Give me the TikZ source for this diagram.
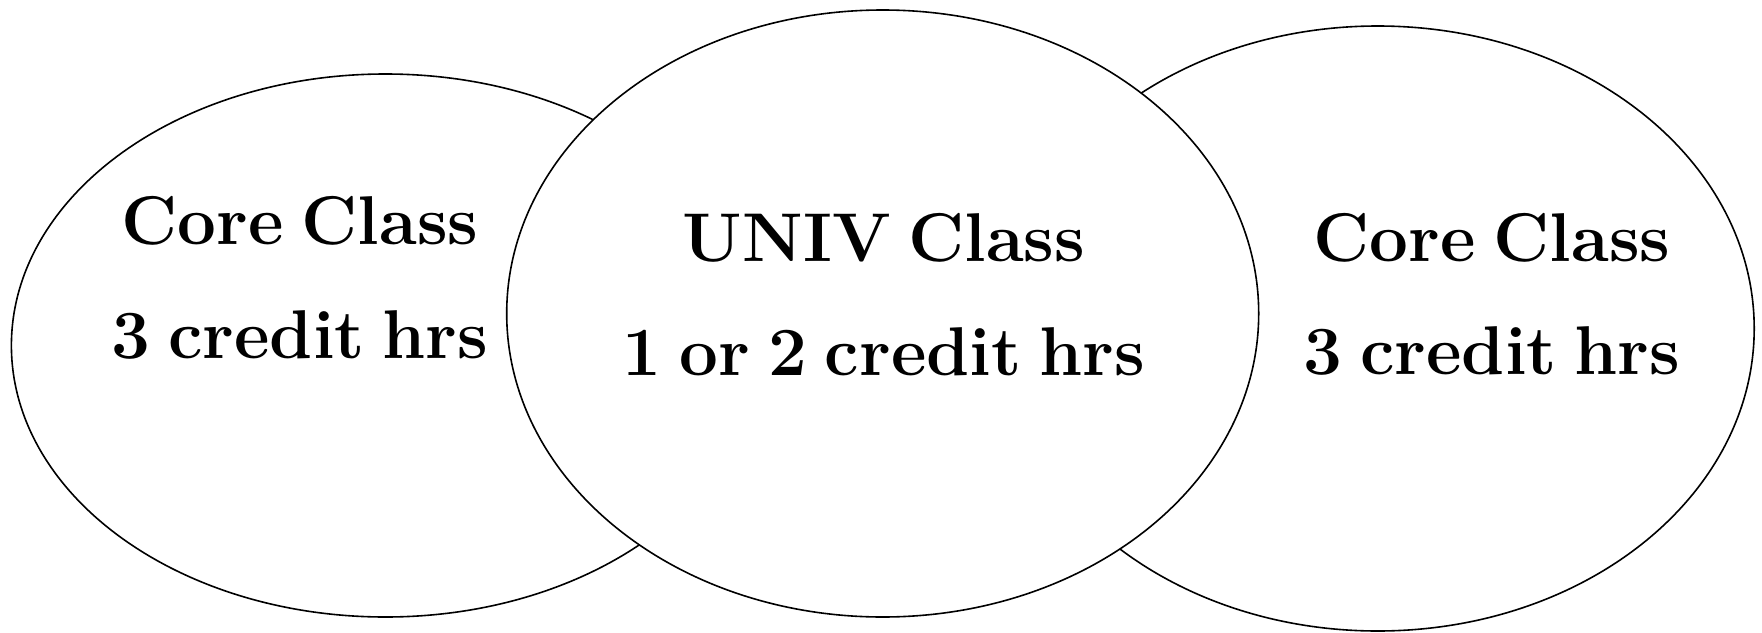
\documentclass[tikz,border=0pt]{standalone}
\usetikzlibrary{shapes.geometric}
\newcommand{\lblfont}{\fontsize{69}{69}\selectfont\bfseries\spaceskip=0.26em\relax}
\tikzset{
  oval/.style={draw=black, line width=1.6pt, fill=white, ellipse, inner sep=0pt},
  lbl/.style={anchor=base, inner sep=0pt, font=\lblfont}
}
\begin{document}
\begin{tikzpicture}[x=1pt,y=-1pt]
\useasboundingbox (0,0) rectangle (1762,632);
\node[oval, minimum width=748pt, minimum height=543pt] (left) at (385.4,345.5) {};
\node[oval, minimum width=753pt, minimum height=605pt] (right) at (1377.7,328.5) {};
\node[oval, minimum width=752pt, minimum height=607pt] (mid) at (882.7,313.5) {};
\node[lbl] (l1) at (300,244) {Core Class};
\node[lbl] (l2) at (300,358) {3 credit hrs};
\node[lbl] (m1) at (884,261) {UNIV Class};
\node[lbl] (m2) at (884,375) {1 or 2 credit hrs};
\node[lbl] (r1) at (1492,261) {Core Class};
\node[lbl] (r2) at (1492,374) {3 credit hrs};
\end{tikzpicture}
\end{document}
